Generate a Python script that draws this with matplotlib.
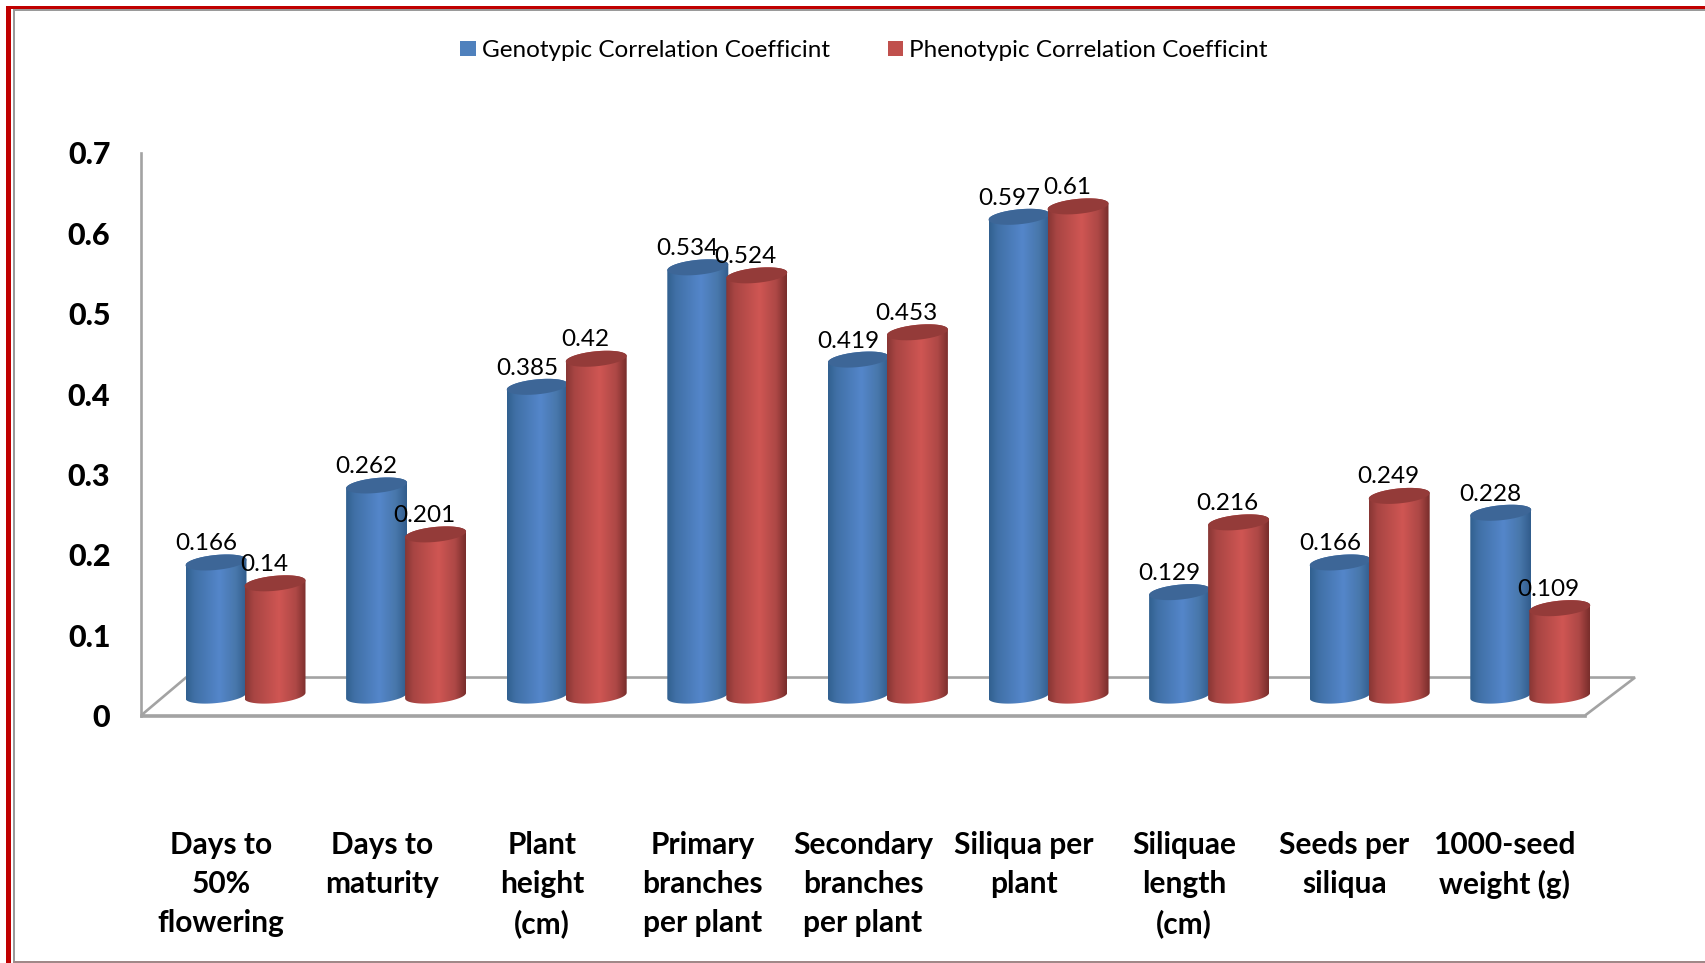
import numpy as np
import matplotlib
matplotlib.use("Agg")
import matplotlib.pyplot as plt
from matplotlib.colors import LinearSegmentedColormap
from matplotlib.patches import PathPatch, Patch, Polygon, Rectangle
from matplotlib.path import Path

categories = ["Days to\n50%\nflowering", "Days to\nmaturity", "Plant\nheight\n(cm)",
              "Primary\nbranches\nper plant", "Secondary\nbranches\nper plant",
              "Siliqua per\nplant", "Siliquae\nlength\n(cm)", "Seeds per\nsiliqua",
              "1000-seed\nweight (g)"]
genotypic = [0.166, 0.262, 0.385, 0.534, 0.419, 0.597, 0.129, 0.166, 0.228]
phenotypic = [0.14, 0.201, 0.42, 0.524, 0.453, 0.61, 0.216, 0.249, 0.109]
y_ticks = [0, 0.1, 0.2, 0.3, 0.4, 0.5, 0.6, 0.7]
series_names = ["Genotypic Correlation Coefficint", "Phenotypic Correlation Coefficint"]

W, H = 1705, 963
DPI = 100
FONT = "Lato"
GRAY = "#a3a3a3"
plt.rcParams["font.family"] = FONT

fig = plt.figure(figsize=(W / DPI, H / DPI), dpi=DPI, facecolor="white")


def px_rect(x0, y_top, x1, y_bottom):
    return [x0 / W, 1 - y_bottom / H, (x1 - x0) / W, (y_bottom - y_top) / H]


# Page frame: red rule on the left and top, gray rule just inside it
for x0, y0, x1, y1, c in [(6, 6, 11, 963, "#c00000"), (6, 6, W, 9.5, "#c00000"),
                          (13, 9.5, 15, 963, "#9a9a9a"), (13, 9.5, W, 11, "#9a9a9a"),
                          (13, 961, W, 963, "#a08888")]:
    fig.add_artist(Rectangle((x0 / W, 1 - y1 / H), (x1 - x0) / W, (y1 - y0) / H,
                             transform=fig.transFigure, fc=c, ec="none"))

# Front plane of the chart: value axis, category labels and floor outline
front = fig.add_axes(px_rect(141, 153, 1585, 715.5))
front.set_xlim(-0.5, 8.5)
front.set_ylim(0, 0.7)
front.patch.set_visible(False)
for side in ("top", "right"):
    front.spines[side].set_visible(False)
for side in ("left", "bottom"):
    front.spines[side].set_color(GRAY)
    front.spines[side].set_linewidth(1.9)
front.set_yticks(y_ticks, [f"{v:g}" for v in y_ticks], fontsize=22, fontweight="black")
front.set_xticks(range(len(categories)), categories, fontsize=21.5, fontweight="bold",
                 linespacing=1.48)
front.tick_params(axis="y", length=0, pad=22)
front.tick_params(axis="x", length=0, pad=83)

depth_x, depth_y = 50 / 160.4, 38 / 804
front.add_patch(Polygon([(-0.5, 0), (8.5, 0), (8.5 + depth_x, depth_y), (-0.5 + depth_x * 0.9, depth_y)],
                        closed=True, fill=False, ec=GRAY, lw=1.9, clip_on=False))

# Cylinders live on their own scale, raised onto the floor behind the front plane
GROUP_PX = 160.6
VALUE_PX = 802.0
ORIGIN_X, ORIGIN_Y = 245.5, 695.6
ax = fig.add_axes([0, 0, 1, 1])
ax.patch.set_visible(False)
ax.axis("off")

HALF_W = 30.5 / GROUP_PX
OFFSET = 29.5 / GROUP_PX
CAP_B = 7.5 / VALUE_PX
TILT = 5.7 / 61 * GROUP_PX / VALUE_PX

blue_cmap = LinearSegmentedColormap.from_list(
    "blue", [(0, "#31608f"), (0.14, "#4070a6"), (0.55, "#5486ca"), (0.82, "#4877ab"), (1, "#315c8c")])
red_cmap = LinearSegmentedColormap.from_list(
    "red", [(0, "#873634"), (0.14, "#a84543"), (0.55, "#cf5653"), (0.82, "#ae4846"), (1, "#782d2b")])


def arc(cx, cy, start, stop, n=40):
    t = np.linspace(start, stop, n)
    x = HALF_W * np.cos(t)
    return np.column_stack([cx + x, cy + CAP_B * np.sin(t) + TILT * x])


def cylinder(cx, value, cmap, cap_color, z):
    # Outline: lower rim left to right, then the far edge of the top rim back again
    outline = np.vstack([arc(cx, 0, np.pi, 2 * np.pi), arc(cx, value, 0, np.pi)])
    body = PathPatch(Path(outline), fc="none", ec="none", zorder=z)
    ax.add_patch(body)
    image = ax.imshow(np.linspace(0, 1, 256)[None, :], cmap=cmap, aspect="auto", zorder=z,
                      extent=(cx - HALF_W, cx + HALF_W, -CAP_B * 3, value + CAP_B * 3))
    image.set_clip_path(body)
    ax.add_patch(Polygon(arc(cx, value, 0, 2 * np.pi), closed=True, fc=cap_color, ec="none",
                         zorder=z + 0.1))


def value_label(cx, value, dx, dy):
    ax.annotate(f"{value:g}", (cx, value), xytext=(dx * 72 / DPI, dy * 72 / DPI),
                textcoords="offset points", ha="center", va="center", fontsize=17.5,
                color="black", zorder=100)


for i, (g, p) in enumerate(zip(genotypic, phenotypic)):
    cylinder(i - OFFSET, g, blue_cmap, "#3d6697", 3 + i)
    cylinder(i + OFFSET, p, red_cmap, "#943b39", 3.5 + i)
    value_label(i - OFFSET, g, -10, 18.5)
    value_label(i + OFFSET, p, -11, 19)

ax.set_xlim(-ORIGIN_X / GROUP_PX, (W - ORIGIN_X) / GROUP_PX)
ax.set_ylim(-(H - ORIGIN_Y) / VALUE_PX, ORIGIN_Y / VALUE_PX)

handles = [Patch(fc="#4f81bd", ec="none"), Patch(fc="#c0504d", ec="none")]
fig.legend(handles, series_names, loc="center", bbox_to_anchor=(864 / W, 1 - 50.5 / H), ncol=2,
           frameon=False, fontsize=17.5, handlelength=0.62, handleheight=0.62,
           handletextpad=0.25, columnspacing=2.4)

fig.savefig("out.png", dpi=DPI, facecolor="white")
